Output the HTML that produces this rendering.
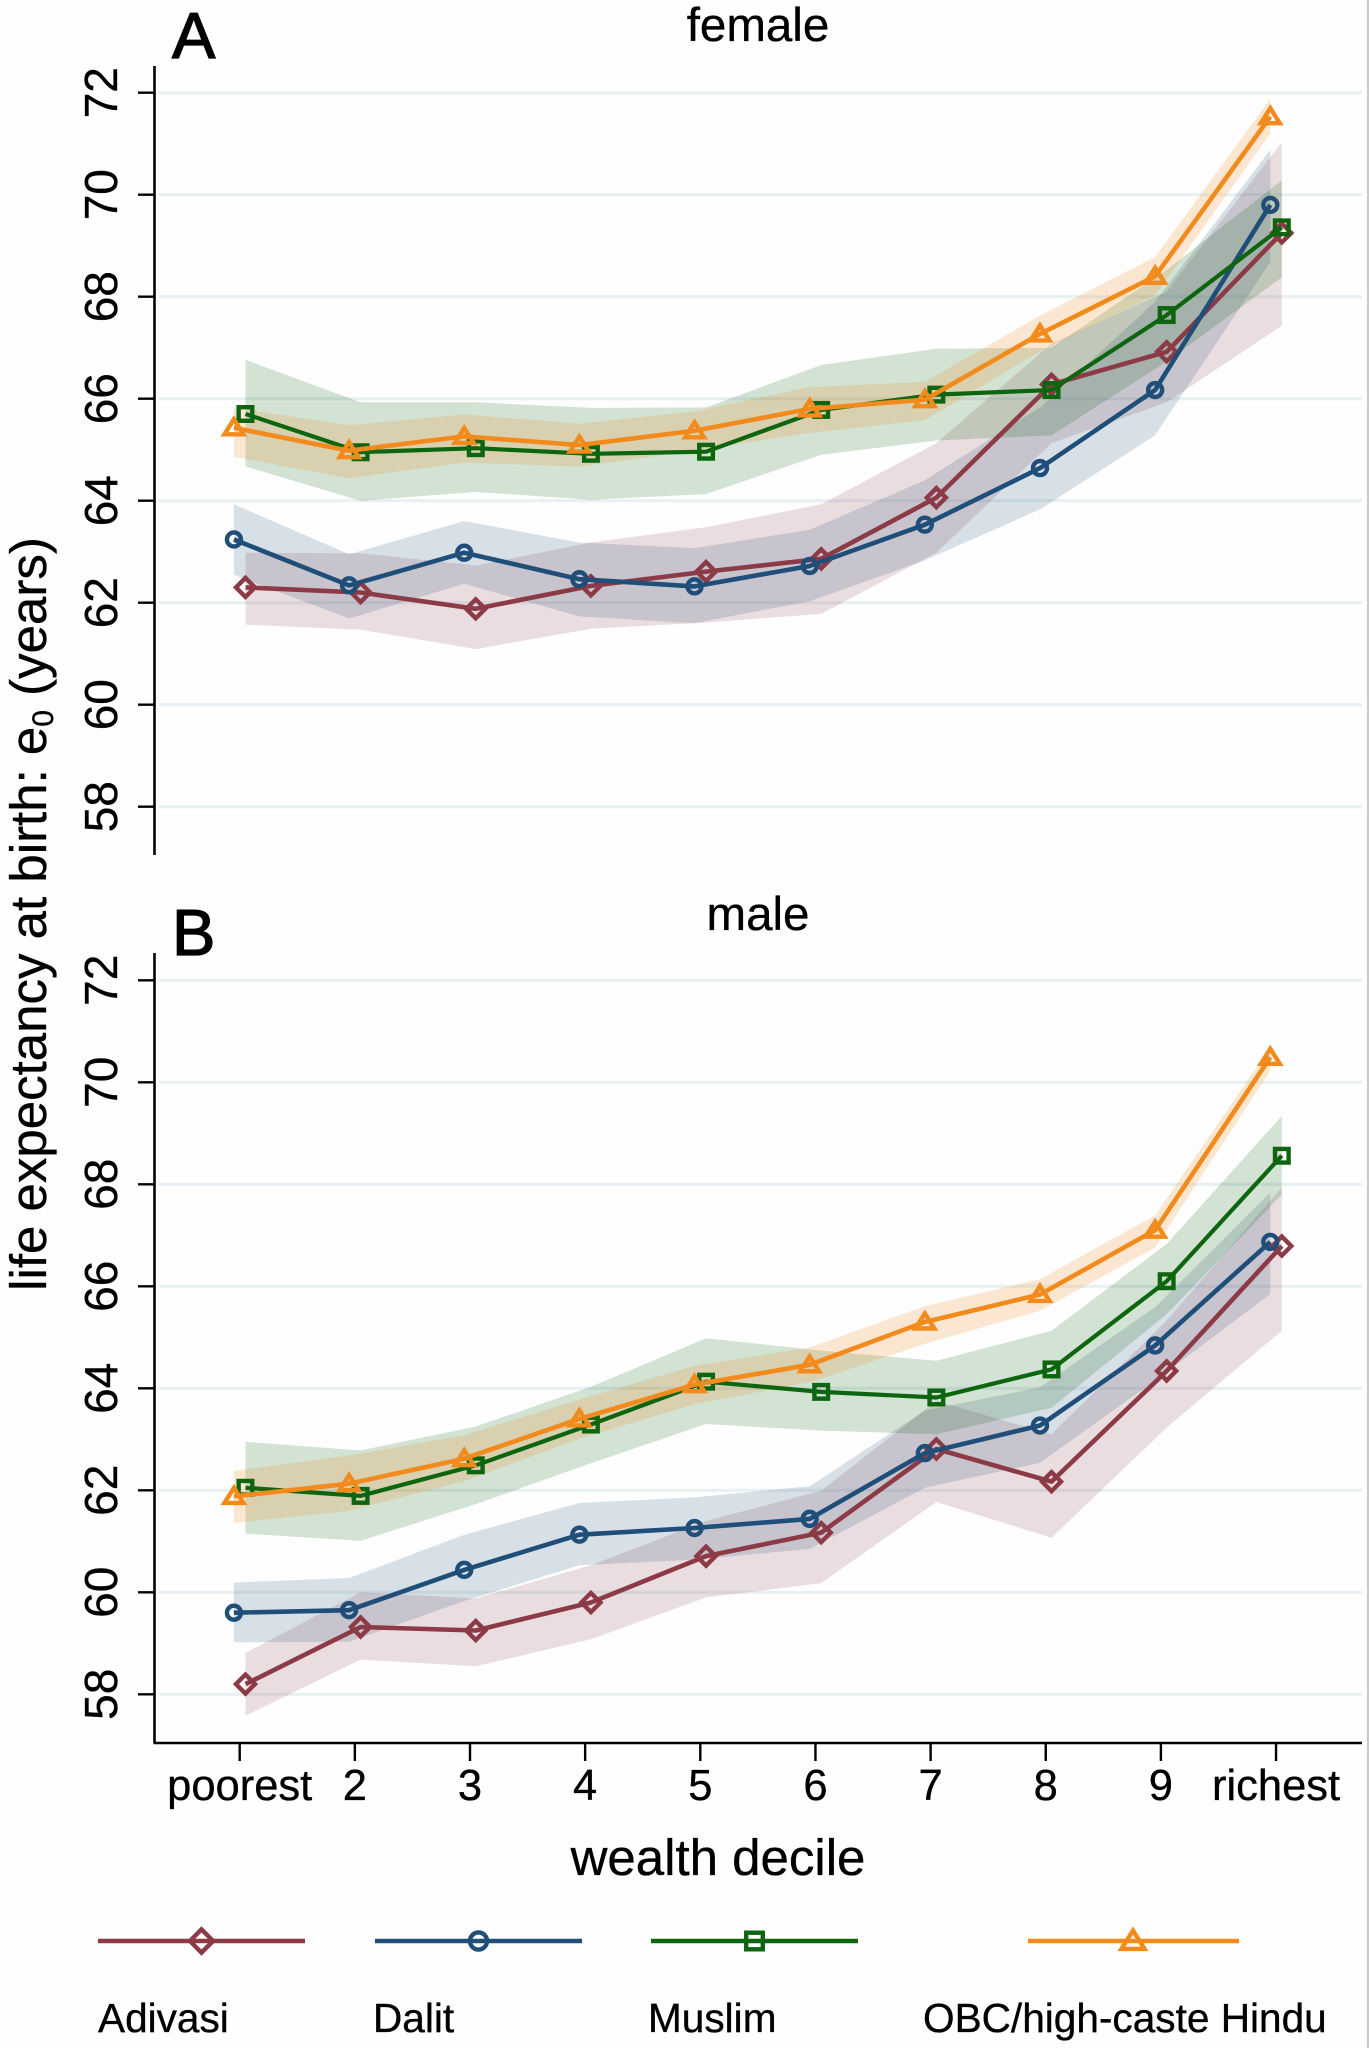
<!DOCTYPE html>
<html lang="en">
<head>
<meta charset="utf-8">
<title>Life expectancy at birth by wealth decile</title>
<style>
  html, body { margin: 0; padding: 0; background: #fff; }
  body { width: 1369px; height: 2048px; overflow: hidden; }
  svg { display: block; }
  text { font-family: "Liberation Sans", Arial, sans-serif; fill: #000; stroke: #000; stroke-width: 0.35px; }
</style>
</head>
<body>
<svg id="chart" xmlns="http://www.w3.org/2000/svg" width="1369" height="2048" viewBox="0 0 1369 2048">
  <rect x="0" y="0" width="1369" height="2048" fill="#fefefe"/>
  <rect x="1367" y="0" width="2" height="2048" fill="#c9c9c9"/>
  <g id="panelA"></g>
  <g id="panelB"></g>

  <text x="172" y="58" font-size="65" style="stroke-width:1.3px">A</text>
  <text x="758" y="41" font-size="47.5" text-anchor="middle">female</text>
  <text x="172" y="955" font-size="65" style="stroke-width:1.3px">B</text>
  <text x="758" y="930" font-size="47.5" text-anchor="middle">male</text>

  <text transform="translate(46 914) rotate(-90)" font-size="51" text-anchor="middle">life expectancy at birth: e<tspan font-size="30" dy="7">0</tspan><tspan dy="-7"> (years)</tspan></text>
  <text x="718" y="1875" font-size="51" text-anchor="middle">wealth decile</text>

  <g id="legend">
    <text x="98" y="2032" font-size="40.6">Adivasi</text>
    <text x="373" y="2032" font-size="40.6">Dalit</text>
    <text x="648" y="2032" font-size="40.6">Muslim</text>
    <text x="923" y="2032" font-size="40.6">OBC/high-caste Hindu</text>
  </g>
</svg>

<script>
// ---- categories and tick labels ----
const deciles = [1, 2, 3, 4, 5, 6, 7, 8, 9, 10];
const xTickLabels = ["poorest", "2", "3", "4", "5", "6", "7", "8", "9", "richest"];
const yTicks = [58, 60, 62, 64, 66, 68, 70, 72];

// ---- panel A: female ----
const femaleAdivasi      = [62.30, 62.20, 61.88, 62.33, 62.61, 62.86, 64.06, 66.28, 66.92, 69.25];
const femaleAdivasiLow   = [61.57, 61.47, 61.09, 61.49, 61.61, 61.78, 62.98, 65.13, 65.93, 67.43];
const femaleAdivasiHigh  = [62.98, 62.97, 62.73, 63.18, 63.48, 63.93, 65.13, 67.08, 68.10, 71.03];

const femaleDalit        = [63.24, 62.34, 62.98, 62.46, 62.32, 62.72, 63.53, 64.64, 66.17, 69.80];
const femaleDalitLow     = [62.55, 61.69, 62.37, 61.73, 61.60, 62.03, 62.83, 63.83, 65.28, 68.68];
const femaleDalitHigh    = [63.93, 62.95, 63.60, 63.18, 63.07, 63.43, 64.40, 65.83, 67.90, 70.88];

const femaleMuslim       = [65.70, 64.95, 65.03, 64.92, 64.96, 65.78, 66.08, 66.17, 67.64, 69.36];
const femaleMuslimLow    = [64.67, 64.00, 64.17, 64.02, 64.13, 64.90, 65.18, 65.28, 66.73, 68.38];
const femaleMuslimHigh   = [66.76, 65.93, 65.93, 65.82, 65.83, 66.66, 66.98, 67.00, 68.53, 70.28];

const femaleObc          = [65.43, 64.98, 65.26, 65.09, 65.37, 65.80, 65.98, 67.27, 68.40, 71.53];
const femaleObcLow       = [64.86, 64.44, 64.75, 64.67, 64.98, 65.33, 65.58, 66.93, 68.03, 71.20];
const femaleObcHigh      = [65.82, 65.48, 65.69, 65.51, 65.75, 66.23, 66.33, 67.63, 68.78, 71.88];

// ---- panel B: male ----
const maleAdivasi        = [58.20, 59.32, 59.25, 59.80, 60.71, 61.17, 62.81, 62.17, 64.34, 66.79];
const maleAdivasiLow     = [57.58, 58.68, 58.55, 59.08, 59.90, 60.18, 61.77, 61.07, 63.23, 65.13];
const maleAdivasiHigh    = [58.81, 60.00, 59.88, 60.53, 61.40, 61.99, 63.75, 63.10, 65.33, 67.94];

const maleDalit          = [59.60, 59.65, 60.44, 61.13, 61.26, 61.44, 62.73, 63.27, 64.84, 66.87];
const maleDalitLow       = [59.02, 59.03, 59.83, 60.53, 60.64, 60.85, 62.05, 62.54, 64.15, 65.85];
const maleDalitHigh      = [60.19, 60.28, 61.13, 61.75, 61.86, 62.08, 63.56, 64.02, 65.59, 67.84];

const maleMuslim         = [62.05, 61.89, 62.49, 63.29, 64.13, 63.93, 63.82, 64.37, 66.10, 68.56];
const maleMuslimLow      = [61.15, 61.01, 61.73, 62.53, 63.30, 63.17, 63.10, 63.62, 65.45, 67.80];
const maleMuslimHigh     = [62.95, 62.78, 63.25, 64.03, 64.98, 64.74, 64.54, 65.13, 66.83, 69.34];

const maleObc            = [61.88, 62.13, 62.62, 63.40, 64.07, 64.46, 65.30, 65.84, 67.10, 70.49];
const maleObcLow         = [61.36, 61.60, 62.18, 63.01, 63.69, 64.12, 64.87, 65.52, 66.76, 70.23];
const maleObcHigh        = [62.38, 62.68, 63.08, 63.78, 64.44, 64.80, 65.61, 66.14, 67.39, 70.69];

// ---- axis functions ----
const NS = "http://www.w3.org/2000/svg";
const X_AT_1 = 239.7, X_PER_DECILE = 115.15, PLOT_LEFT = 154.5, PLOT_RIGHT = 1362;
const Y_PER_YEAR = 51;
function xScale(decile, dodge) { return X_AT_1 + X_PER_DECILE * (decile - 1 + dodge); }
function yScaleFor(y58) { return function (v) { return y58 - (v - 58) * Y_PER_YEAR; }; }

function mk(tag, parent, attrs) {
  const el = document.createElementNS(NS, tag);
  for (const k in attrs) el.setAttribute(k, attrs[k]);
  parent.appendChild(el);
  return el;
}

function drawMarker(parent, kind, x, y, color, big, label) {
  const s = big ? 1.22 : 1;
  const base = { fill: "none", stroke: color, "stroke-width": 4.4, "stroke-linejoin": "miter" };
  let el;
  if (kind === "diamond") {
    const r = 9.5 * s;
    el = mk("path", parent, Object.assign({ d: "M" + (x - r) + " " + y + "L" + x + " " + (y - r) + "L" + (x + r) + " " + y + "L" + x + " " + (y + r) + "Z" }, base));
  } else if (kind === "circle") {
    el = mk("circle", parent, Object.assign({ cx: x, cy: y, r: 7 * s }, base));
  } else if (kind === "square") {
    const r = 6.8 * s;
    el = mk("rect", parent, Object.assign({ x: x - r, y: y - r, width: 2 * r, height: 2 * r }, base));
  } else {
    const r = 9.5 * s;
    el = mk("path", parent, Object.assign({ d: "M" + (x - r) + " " + (y + 6.5 * s) + "L" + x + " " + (y - 8.5 * s) + "L" + (x + r) + " " + (y + 6.5 * s) + "Z" }, base));
  }
  
  
  return el;
}

const seriesStyles = [
  { key: "adivasi", color: "#8b3a46", marker: "diamond", dodge: 0.05,  width: 4.6, bandOpacity: 0.17 },
  { key: "dalit",   color: "#1f4e79", marker: "circle",  dodge: -0.05, width: 4.6, bandOpacity: 0.17 },
  { key: "muslim",  color: "#0d650f", marker: "square",  dodge: 0.05,  width: 4.2, bandOpacity: 0.18 },
  { key: "obc",     color: "#f28a1c", marker: "triangle", dodge: -0.05, width: 4.6, bandOpacity: 0.2 }
];

function drawPanel(root, prefix, y58, axisTop, axisBottom, withXAxis, data) {
  const yScale = yScaleFor(y58);

  // gridlines
  yTicks.forEach(function (t) {
    const y = yScale(t);
    const grid = mk("line", root, { x1: PLOT_LEFT + 4, x2: PLOT_RIGHT, y1: y, y2: y, stroke: "#e8f0f3", "stroke-width": 3.2 });
    
    
  });

  // confidence bands
  data.forEach(function (s, idx) {
    const st = seriesStyles[idx];
    const up = s.high.map(function (v, i) { return xScale(deciles[i], st.dodge).toFixed(1) + "," + yScale(v).toFixed(1); });
    const lo = s.low.map(function (v, i) { return xScale(deciles[i], st.dodge).toFixed(1) + "," + yScale(v).toFixed(1); }).reverse();
    const band = mk("polygon", root, { points: up.concat(lo).join(" "), fill: st.color, "fill-opacity": st.bandOpacity, stroke: "none" });
    
    
  });

  // lines and markers
  data.forEach(function (s, idx) {
    const st = seriesStyles[idx];
    const pts = s.mean.map(function (v, i) { return xScale(deciles[i], st.dodge).toFixed(1) + "," + yScale(v).toFixed(1); });
    const line = mk("polyline", root, { points: pts.join(" "), fill: "none", stroke: st.color, "stroke-width": st.width, "stroke-linejoin": "round" });
    
    
    s.mean.forEach(function (v, i) {
      drawMarker(root, st.marker, xScale(deciles[i], st.dodge), yScale(v), st.color, false, prefix + '-marker-' + st.key + '-' + deciles[i]);
    });
  });

  // y axis
  const yAxis = mk("line", root, { x1: PLOT_LEFT, x2: PLOT_LEFT, y1: axisTop, y2: axisBottom, stroke: "#000", "stroke-width": 2.6 });
  
  

  yTicks.forEach(function (t) {
    const y = yScale(t);
    const tick = mk("line", root, { x1: 138, x2: PLOT_LEFT, y1: y, y2: y, stroke: "#000", "stroke-width": 2.4 });
    
    
    const label = mk("text", root, { transform: "translate(117 " + y + ") rotate(-90)", "font-size": 46, "text-anchor": "middle" });
    label.textContent = String(t);
    
    
  });

  if (withXAxis) {
    const xAxis = mk("line", root, { x1: PLOT_LEFT - 1, x2: PLOT_RIGHT, y1: axisBottom, y2: axisBottom, stroke: "#000", "stroke-width": 2.6 });
    
    
    deciles.forEach(function (d, i) {
      const x = xScale(d, 0);
      const tick = mk("line", root, { x1: x, x2: x, y1: axisBottom, y2: axisBottom + 18, stroke: "#000", "stroke-width": 2.4 });
      
      
      const label = mk("text", root, { x: x, y: 1800, "font-size": 43.5, "text-anchor": "middle" });
      label.textContent = xTickLabels[i];
      
      
    });
  }
}

drawPanel(document.getElementById("panelA"), "female", 806.7, 66, 855, false, [
  { mean: femaleAdivasi, low: femaleAdivasiLow, high: femaleAdivasiHigh },
  { mean: femaleDalit,   low: femaleDalitLow,   high: femaleDalitHigh },
  { mean: femaleMuslim,  low: femaleMuslimLow,  high: femaleMuslimHigh },
  { mean: femaleObc,     low: femaleObcLow,     high: femaleObcHigh }
]);

drawPanel(document.getElementById("panelB"), "male", 1694.3, 953, 1743, true, [
  { mean: maleAdivasi, low: maleAdivasiLow, high: maleAdivasiHigh },
  { mean: maleDalit,   low: maleDalitLow,   high: maleDalitHigh },
  { mean: maleMuslim,  low: maleMuslimLow,  high: maleMuslimHigh },
  { mean: maleObc,     low: maleObcLow,     high: maleObcHigh }
]);

// legend keys
const legendRoot = document.getElementById("legend");
const legendSpans = [[98, 305], [375, 582], [651, 858], [1028, 1239]];
seriesStyles.forEach(function (st, i) {
  const span = legendSpans[i];
  const key = mk("line", legendRoot, { x1: span[0], x2: span[1], y1: 1941, y2: 1941, stroke: st.color, "stroke-width": 4.6 });
  
  
  drawMarker(legendRoot, st.marker, (span[0] + span[1]) / 2 + (i === 3 ? -0.5 : 0), 1941, st.color, true, 'legend-marker-' + st.key);
});
</script>
</body>
</html>
